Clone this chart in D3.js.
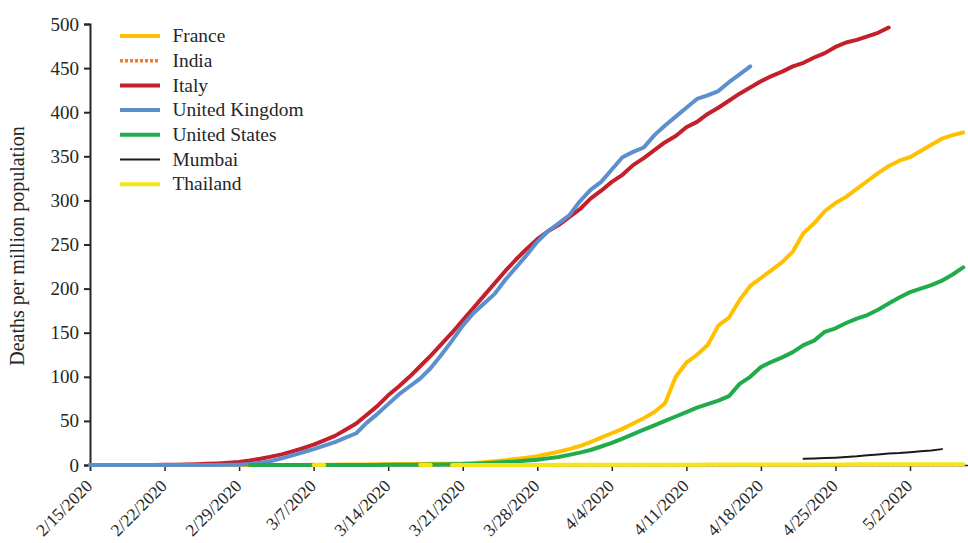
<!DOCTYPE html>
<html>
<head>
<meta charset="utf-8">
<script src="https://cdn.jsdelivr.net/npm/d3@7"></script>
<style>
  body { margin: 0; background: #fff; }
  svg { display: block; font-family: "Liberation Serif", "Times New Roman", serif; }
</style>
</head>
<body>
<svg id="chart" width="968" height="543"></svg>
<script>
'use strict';
var parse = d3.timeParse('%Y-%m-%d');

// legend order = drawing order
var names  = ['France', 'India', 'Italy', 'United Kingdom', 'United States', 'Mumbai', 'Thailand'];
var colors = ['#FFC000', '#ED7D31', '#C4202B', '#5B8FCE', '#21AC4B', '#1a1a1a', '#F2E619'];
var starts = ['2020-02-15', '2020-03-12', '2020-02-15', '2020-02-15', '2020-03-01', '2020-04-22', '2020-03-07'];

// deaths per million, one value per day from the series start date (null = no point)
var france = [0,0,0,0,0,0,0,0,0,0,0,0,0,0,0,0,0,0,0,0,0,
  0.2,0.3,0.4,0.5,0.6,0.7,0.8,0.9,1.0,1.1,1.2,1.3,1.4,1.5,
  1.7,2.2,3,4.2,5.5,6.8,8.2,10,12.5,15,18,21.5,26,31,36,41,47,53,60,70,
  100,116,125,136,158,167,187,203,212,221,230,242,263,274,288,297,
  304,313,322,331,339,345,349,356,363,370,374,377];
var india = [0,0,0,0,0,0,0,0,0,0,0,0,0,0,0,0,0.01,0.01,0.01,0.02,0.02,0.03,0.03,0.04,0.05,0.06,
  0.07,0.08,0.09,0.1,0.11,0.12,0.13,0.14,0.15,0.16,0.17,0.18,0.19,0.2,0.21,0.22,0.23,0.24,
  0.25,0.26,0.27,0.28,0.29,0.3,0.31,0.32,0.33,0.34,0.35,0.36,0.37];
var italy = [0,0,0,0,0,0,0.1,0.2,0.4,0.6,0.9,1.3,1.8,2.5,3.3,
  5,7,9.5,12,15.5,19,23,28,33,40,47,57,67,79,89,100,112,124,137,150,
  164,178,192,206,220,233,245,256,265,272,281,290,302,311,321,329,
  340,348,357,366,373,383,389,398,405,413,421,428,435,441,446,452,
  456,462,467,474,479,482,486,490,496];
var uk = [0,0,0,0,0,0,0,0,0,0,0,0.05,0.1,0.2,0.4,
  1,2.5,4.5,7.5,11,14.5,18,22,26,31,36,48,58,69,80,89,98,110,125,141,
  158,172,183,194,210,224,238,253,265,274,283,299,312,321,335,349,
  355,360,374,385,395,405,415,419,424,434,443,452];
var us = [0,0,0,0,0,0,0,0,0,0,0.1,0.1,0.1,0.2,0.2,0.3,0.4,0.5,0.6,0.8,
  1,1.5,2,2.6,3.3,4,5,6,7.5,9,11.5,14,17,21,25,30,35,40,45,50,
  55,60,65,69,73,78,92,100,111,117,122,128,136,141,151,155,
  161,166,170,176,183,190,196,200,204,209,216,224];
var mumbai = [7,7.3,7.8,8.3,9,9.8,11,12,13,13.5,14.5,15.5,16.5,18];
var thailand = [0.01,0.01,null,null,null,null,null,null,null,null,0.01,0.01,null,
  0.02,0.03,0.04,0.05,0.06,0.07,0.08,0.1,0.12,0.14,0.16,0.18,0.2,0.22,0.24,0.26,0.28,
  0.3,0.32,0.34,0.36,0.38,0.4,0.42,0.44,0.46,0.48,0.5,0.52,0.54,0.56,0.58,0.6,0.62,
  0.64,0.66,0.68,0.7,0.72,0.74,0.76,0.78,0.8,0.8,0.8,0.8,0.8,0.8,0.8];
var values = [france, india, italy, uk, us, mumbai, thailand];

var xTicks = ['2020-02-15', '2020-02-22', '2020-02-29', '2020-03-07', '2020-03-14', '2020-03-21',
              '2020-03-28', '2020-04-04', '2020-04-11', '2020-04-18', '2020-04-25', '2020-05-02'];
var yTicks = [0, 50, 100, 150, 200, 250, 300, 350, 400, 450, 500];

var dayPx = 820 / 77;
var x = d3.scaleTime()
          .domain([parse('2020-02-15'), parse('2020-05-08')])
          .range([90, 90 + 83 * dayPx]);
var y = d3.scaleLinear()
          .domain([0, 500])
          .range([465, 24]);

var svg = d3.select('#chart');
var ink = '#262626';

var series = names.map(function(name, i) {
  var start = parse(starts[i]);
  return {
    name: name,
    color: colors[i],
    points: values[i].map(function(v, j) { return {date: d3.timeDay.offset(start, j), v: v}; })
  };
});

// x axis (sits under the lines)
var xAxis = svg.append('g')
               .attr('transform', 'translate(0,465)')
               .call(d3.axisBottom(x)
                       .tickValues(xTicks.map(parse))
                       .tickSize(6)
                       .tickFormat(d3.timeFormat('%-m/%-d/%Y')));
xAxis.select('.domain').attr('stroke', ink).attr('stroke-width', 1.5);
xAxis.selectAll('.tick line').attr('stroke', ink).attr('stroke-width', 1.5);
xAxis.selectAll('.tick text')
     .attr('fill', ink)
     .attr('font-size', 17.5)
     .attr('font-family', '"Liberation Serif", serif')
     .attr('text-anchor', 'end')
     .attr('dy', 0)
     .attr('y', 0)
     .attr('transform', 'translate(3,22) rotate(-45)');

// y axis
var yAxis = svg.append('g')
               .attr('transform', 'translate(90,0)')
               .call(d3.axisLeft(y).tickValues(yTicks).tickSize(6).tickPadding(5));
yAxis.select('.domain').attr('stroke', ink).attr('stroke-width', 2);
yAxis.selectAll('.tick line').attr('stroke', ink).attr('stroke-width', 2);
yAxis.selectAll('.tick text')
     .attr('fill', ink)
     .attr('font-size', 19)
     .attr('font-family', '"Liberation Serif", serif');

svg.append('text')
   .attr('transform', 'translate(24,246) rotate(-90)')
   .attr('text-anchor', 'middle')
   .attr('fill', ink)
   .attr('font-size', 20)
   .text('Deaths per million population');

// lines
var line = d3.line()
             .defined(function(d) { return d.v !== null; })
             .x(function(d) { return x(d.date); })
             .y(function(d) { return y(d.v); });

function strokeWidth(d) { return d.name === 'Mumbai' ? 2 : (d.name === 'India' ? 3.5 : 4); }
function dash(d) { return d.name === 'India' ? '3 2' : null; }

svg.append('g')
   .selectAll('path')
   .data(series).enter()
     .append('path')
     .attr('d', function(d) { return line(d.points); })
     .attr('fill', 'none')
     .attr('stroke', function(d) { return d.color; })
     .attr('stroke-width', strokeWidth)
     .attr('stroke-dasharray', dash)
     .attr('stroke-linejoin', 'round')
     .attr('stroke-linecap', function(d) { return d.name === 'India' ? 'butt' : 'round'; });

// legend
var legend = svg.append('g')
                .selectAll('g')
                .data(series).enter()
                  .append('g')
                  .attr('transform', function(d, i) { return 'translate(120,' + (36 + i * 24.7) + ')'; });

legend.append('line')
      .attr('x1', 0).attr('x2', 40)
      .attr('stroke', function(d) { return d.color; })
      .attr('stroke-width', strokeWidth)
      .attr('stroke-dasharray', dash);

legend.append('text')
      .attr('x', 50)
      .attr('dy', '0.33em')
      .attr('fill', ink)
      .attr('font-size', 18.5)
      .attr('transform', 'scale(1.05,1)')
      .text(function(d) { return d.name; });
</script>
</body>
</html>
